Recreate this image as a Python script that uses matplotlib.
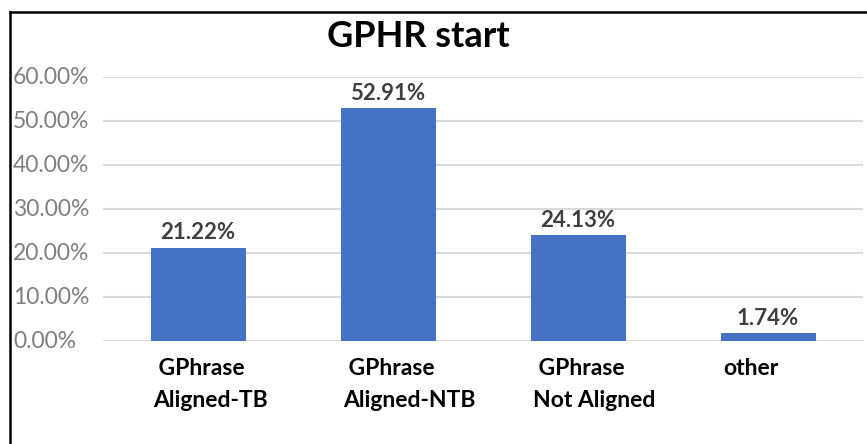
import numpy as np
import matplotlib
matplotlib.use("Agg")
import matplotlib.pyplot as plt
from matplotlib.lines import Line2D

categories = ["GPhrase\nAligned-TB", "GPhrase\nAligned-NTB", "GPhrase\nNot Aligned", "other"]
values = [21.22, 52.91, 24.13, 1.74]
yticks = [0, 10, 20, 30, 40, 50, 60]

plt.rcParams['font.family'] = ['Lato', 'DejaVu Sans']

fig = plt.figure(figsize=(8.67, 4.44), dpi=100)
ax = fig.add_axes([103/867, 1-341/444, 760/867, 264/444])

x = np.arange(len(categories))
bars = ax.bar(x, values, width=0.5, color="#4472C4", zorder=3)

ax.set_xlim(-0.5, len(categories)-0.5)
ax.set_ylim(0, 60)
ax.set_yticks(yticks)
ax.set_yticklabels([])
ax.set_xticks([])
for s in ax.spines.values():
    s.set_visible(False)
ax.tick_params(left=False, bottom=False)
ax.grid(axis="y", color="#d9d9d9", linewidth=1.5, zorder=0)

# y tick labels, left aligned like the screenshot
for t in yticks:
    ax.annotate(f"{t:.2f}%", xy=(13/867, t), xycoords=("figure fraction", "data"),
                ha="left", va="center", fontsize=16.5, color="#7f7f7f")

# value labels
for xi, v in zip(x, values):
    ax.annotate(f"{v:.2f}%", xy=(xi, v), xytext=(0, 3), textcoords="offset points",
                ha="center", va="bottom", fontsize=16, fontweight="bold", color="#404040")

# category labels, left aligned near bar left edge
for xi, lab in zip(x, categories):
    lines = lab.split("\n")
    if len(lines) == 2:
        lab = " " + lines[0] + "\n" + lines[1]
    ax.annotate(lab, xy=(xi - 0.25, 0), xytext=(2, -12.5), textcoords="offset points",
                ha="left", va="top", fontsize=16.5, fontweight="bold", color="black",
                linespacing=1.6)

fig.text(418/867, 1-36/444, "GPHR start", ha="center", va="center",
         fontsize=26, fontweight="bold", color="black")

# frame lines (left and top only visible in the crop)
fig.add_artist(Line2D([9.5/867, 9.5/867], [0, 1-12.5/444], transform=fig.transFigure,
                      color="black", linewidth=1.8))
fig.add_artist(Line2D([9.5/867, 1], [1-12.5/444, 1-12.5/444], transform=fig.transFigure,
                      color="black", linewidth=1.8))

fig.savefig("out.png", dpi=100)
